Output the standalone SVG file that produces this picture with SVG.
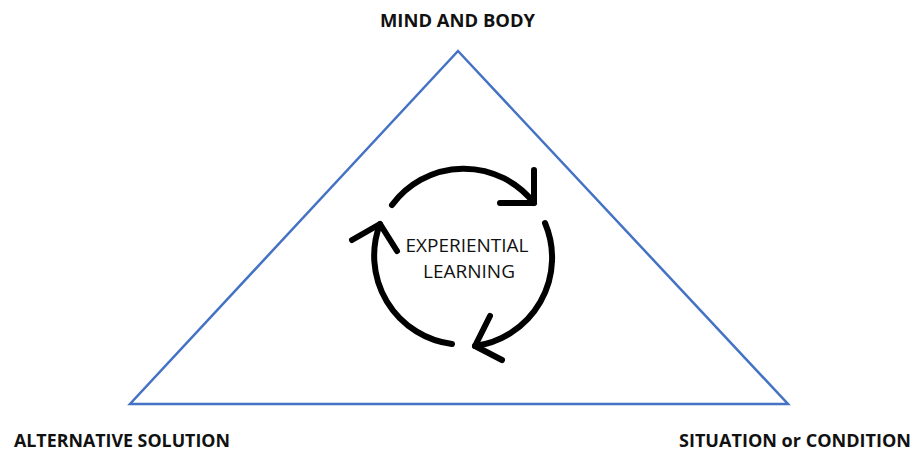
<svg xmlns="http://www.w3.org/2000/svg" width="914" height="453" viewBox="0 0 914 453">
  <style>
    .tri { fill: none; stroke: #4472C4; stroke-width: 2.5; stroke-linejoin: miter; }
    .cyc { fill: none; stroke: #000; stroke-width: 6; stroke-linecap: round; stroke-linejoin: round; }
    .lbl { font-family: "Open Sans", "Liberation Sans", sans-serif; font-weight: bold; font-size: 17px; fill: #111; }
    .mid { font-family: "Open Sans", "Liberation Sans", sans-serif; font-size: 18.5px; fill: #111; text-anchor: middle; }
  </style>
  <rect width="914" height="453" fill="#fff"/>

  <!-- triangle frame -->
  <g id="triangle">
    <polygon class="tri" points="458,51 788,404 130,404"/>
  </g>

  <!-- corner labels -->
  <g id="mind-and-body">
    <text class="lbl" x="380" y="27" textLength="155" lengthAdjust="spacingAndGlyphs">MIND AND BODY</text>
  </g>
  <g id="alternative-solution">
    <text class="lbl" x="14" y="447" textLength="216" lengthAdjust="spacingAndGlyphs">ALTERNATIVE SOLUTION</text>
  </g>
  <g id="situation-or-condition">
    <text class="lbl" x="679" y="447" textLength="232" lengthAdjust="spacingAndGlyphs">SITUATION or CONDITION</text>
  </g>

  <!-- cycle arrows -->
  <g id="connectors">
    <path class="cyc" d="M392,205 A89,89 0 0 1 534,203"/>
    <path class="cyc" d="M534,170 L534,203 L500,203"/>
    <path class="cyc" d="M545,223 A89,89 0 0 1 475,346"/>
    <path class="cyc" d="M490,316 L475,346 L502,360"/>
    <path class="cyc" d="M452,344 A89,89 0 0 1 380,224"/>
    <path class="cyc" d="M352,240 L380,224 L397,251"/>
  </g>

  <!-- centre label -->
  <g id="experiential-learning">
    <text class="mid" x="467" y="252" textLength="123" lengthAdjust="spacingAndGlyphs">EXPERIENTIAL</text>
    <text class="mid" x="469" y="278" textLength="92" lengthAdjust="spacingAndGlyphs">LEARNING</text>
  </g>
</svg>
